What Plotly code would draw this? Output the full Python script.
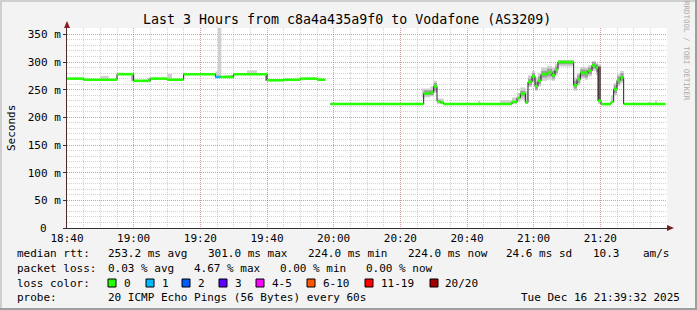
import plotly.graph_objects as go
import pandas as pd

BASE = pd.Timestamp("2025-12-16 18:40:00")

# ---------------- data ----------------
# median rtt segments: start minute (after 18:40); last entry is the end of the last segment
med_t = [0, 5, 15, 20, 25, 30, 35, 44.5, 46, 50, 60, 65, 70, 75, 77.5,
         79, 107, 109, 110, 111, 112, 113,
         133.5, 135, 136, 137.5, 138.3, 139.5, 140.4, 141.3, 142.2, 144, 145.5, 146.4, 147.3,
         152, 153, 154, 155.4, 156.3, 157.5, 158.7, 159.3, 160.2, 163.2, 164, 165, 166, 167, 179.5]
med_v = [270, 268, 278, 266, 270, 268, 278, 273, 273, 278, 267, 268, 270, 268, None,
         224, 243, 245, 256, 229, 227, 224,
         228, 235, 243, 227, 264, 274, 256, 266, 278, 281, 276, 286, 300,
         258, 269, 281, 279, 284, 294, 290, 230, 224, 228, 251, 267, 272, 224]
med_loss = [0, 0, 0, 0, 0, 0, 0, 1, 0, 0, 0, 0, 0, 0, 0,
            0, 0, 0, 0, 0, 0, 0,
            0, 0, 0, 0, 0, 0, 0, 0, 0, 0, 0, 0, 0,
            0, 0, 0, 0, 0, 0, 0, 0, 0, 0, 0, 0, 0, 0]

# smoke (outer, light)
sl_t0 = [10, 24.2, 30, 44.5, 45.3, 47.5, 54,
         106.5, 109, 110, 111, 123.5, 130, 133.5, 135, 136, 137.5, 138.3, 139.5, 140.4, 141.3,
         142.2, 144, 145.5, 146.4, 147.3, 152, 153, 154, 155.4, 156.3, 157.5, 158.7, 159.3,
         163.2, 164, 165, 166, 174.5, 176.5]
sl_t1 = [12.5, 25, 31.5, 45.3, 46.3, 50, 57,
         109, 110, 111, 113, 124, 133.5, 135, 136, 137.5, 138.3, 139.5, 140.4, 141.3, 142.2,
         144, 145.5, 146.4, 147.3, 152, 153, 154, 155.4, 156.3, 157.5, 158.7, 159.3, 160.2,
         164, 165, 166, 167, 175, 177]
sl_lo = [268, 266, 268, 272, 272, 272, 278,
         236, 238, 244, 224, 224, 224, 224, 228, 232, 224, 255, 262, 248, 256,
         266, 268, 266, 276, 292, 248, 258, 270, 268, 274, 284, 276, 224,
         226, 240, 256, 262, 224, 224]
sl_hi = [275, 272, 279, 283, 370, 276, 285,
         252, 256, 266, 234, 230, 231, 236, 244, 254, 248, 276, 284, 272, 280,
         290, 293, 290, 297, 304, 272, 280, 291, 290, 294, 302, 298, 296,
         240, 262, 278, 284, 228, 230]

# smoke (inner, mid grey)
sm_t0 = [19.3, 24.5, 49, 59.6, 107, 110, 136, 138.3, 139.5, 140.4, 141.3, 142.2, 144, 145.5,
         146.4, 147.3, 152, 153, 154, 155.4, 156.3, 157.5, 158.7, 164, 165, 166]
sm_t1 = [20.1, 25, 50, 60.1, 110, 111, 137.5, 139.5, 140.4, 141.3, 142.2, 144, 145.5, 146.4,
         147.3, 152, 153, 154, 155.4, 156.3, 157.5, 158.7, 159.3, 165, 166, 167]
sm_lo = [266, 266, 272, 266, 240, 248, 238, 258, 266, 250, 260, 272, 274, 270,
         280, 296, 252, 262, 274, 272, 278, 288, 282, 244, 260, 266]
sm_hi = [278, 270, 276, 278, 249, 262, 248, 270, 280, 264, 274, 284, 288, 284,
         292, 302, 266, 276, 287, 286, 290, 300, 296, 258, 274, 280]

# smoke (dark core)
sd_t0 = [159.3]
sd_t1 = [160.2]
sd_lo = [228]
sd_hi = [292]

loss_colors = ["#26ff00", "#00b8ff", "#0059ff", "#5e00ff", "#ff00ff", "#ff5500", "#ff0000", "#a00000"]
loss_labels = ["0", "1", "2", "3", "4-5", "6-10", "11-19", "20/20"]

x_tick_min = [0, 20, 40, 60, 80, 100, 120, 140, 160]
x_tick_labels = ["18:40", "19:00", "19:20", "19:40", "20:00", "20:20", "20:40", "21:00", "21:20"]
y_tick_vals = [0, 50, 100, 150, 200, 250, 300, 350]
y_tick_labels = ["0", "50 m", "100 m", "150 m", "200 m", "250 m", "300 m", "350 m"]

# ---------------- helpers ----------------
W, H = 697, 310
L, R, T, B = 67, 30, 28, 82
PW, PH = W - L - R, H - T - B
MONO = "DejaVu Sans Mono"


def tm(m):
    return BASE + pd.Timedelta(minutes=m)


def px(x):
    return (x - L) / PW


def py(y):
    return (H - B - y) / PH


def smoke(t0, t1, lo, hi, color):
    return go.Bar(
        x=[tm((a + b) / 2) for a, b in zip(t0, t1)],
        y=[h - l for l, h in zip(lo, hi)],
        base=lo,
        width=[(b - a) * 60000 for a, b in zip(t0, t1)],
        marker=dict(color=color, line=dict(width=0)),
        hoverinfo="skip", showlegend=False,
    )


fig = go.Figure()
fig.add_trace(smoke(sl_t0, sl_t1, sl_lo, sl_hi, "#d0d0d0"))
fig.add_trace(smoke(sm_t0, sm_t1, sm_lo, sm_hi, "#a0a0a0"))
fig.add_trace(smoke(sd_t0, sd_t1, sd_lo, sd_hi, "#6e5a5a"))

# thin dark median line
lx, ly = [], []
for i, v in enumerate(med_v):
    if v is None:
        lx.append(None)
        ly.append(None)
        continue
    lx += [tm(med_t[i]), tm(med_t[i + 1])]
    ly += [v, v]
fig.add_trace(go.Scatter(x=lx, y=ly, mode="lines", line=dict(color="#202020", width=1),
                         hoverinfo="skip", showlegend=False))

# thick loss-coloured median stripes
for li, col in enumerate(loss_colors):
    sx, sy = [], []
    for i, v in enumerate(med_v):
        if v is None or med_loss[i] != li:
            continue
        sx += [tm(med_t[i]), tm(med_t[i + 1]), None]
        sy += [v, v, None]
    if sx:
        fig.add_trace(go.Scatter(x=sx, y=sy, mode="lines", line=dict(color=col, width=2.6),
                                 hoverinfo="skip", showlegend=False))

major_grid = "rgba(222,80,80,0.4)"
minor_grid = "rgba(143,143,143,0.4)"

# the "0" y label is drawn separately (it sits under the digit column, not the unit)
y_tick_text_axis = ["" if v == 0 else t for v, t in zip(y_tick_vals, y_tick_labels)]

fig.update_layout(
    width=W, height=H,
    margin=dict(l=L, r=R, t=T, b=B, pad=0),
    paper_bgcolor="#f3f3f3", plot_bgcolor="#ffffff",
    barmode="overlay", showlegend=False,
    font=dict(family=MONO, size=11, color="#000000"),
    xaxis=dict(
        type="date", range=[tm(0), tm(180)], automargin=False,
        tickmode="array", tickvals=[tm(m) for m in x_tick_min], ticktext=x_tick_labels,
        showgrid=True, gridcolor=major_grid, griddash="1px,1px", gridwidth=1,
        minor=dict(dtick=5 * 60000, tick0=tm(0), showgrid=True, gridcolor=minor_grid,
                   griddash="1px,1px", gridwidth=1),
        showline=True, linecolor="#303030", linewidth=1, zeroline=False,
        ticks="", tickfont=dict(family=MONO, size=11),
    ),
    yaxis=dict(
        range=[0, 361.5], automargin=False,
        tickmode="array", tickvals=y_tick_vals, ticktext=y_tick_text_axis,
        showgrid=True, gridcolor=major_grid, griddash="1px,1px", gridwidth=1,
        minor=dict(dtick=10, tick0=0, showgrid=True, gridcolor=minor_grid,
                   griddash="1px,1px", gridwidth=1),
        showline=True, linecolor="#4a2a2a", linewidth=1, zeroline=False,
        ticks="outside", ticklen=3, tickcolor="#4a2a2a",
        tickfont=dict(family=MONO, size=11),
    ),
)

shapes = []
# frame shading
shapes.append(dict(type="rect", xref="paper", yref="paper", x0=px(0), x1=px(W), y0=py(0), y1=py(2),
                   fillcolor="#cfcfcf", line=dict(width=0), layer="above"))
shapes.append(dict(type="rect", xref="paper", yref="paper", x0=px(0), x1=px(2), y0=py(0), y1=py(H),
                   fillcolor="#cfcfcf", line=dict(width=0), layer="above"))
shapes.append(dict(type="rect", xref="paper", yref="paper", x0=px(0), x1=px(W), y0=py(H - 2), y1=py(H),
                   fillcolor="#9e9e9e", line=dict(width=0), layer="above"))
shapes.append(dict(type="rect", xref="paper", yref="paper", x0=px(W - 2), x1=px(W), y0=py(0), y1=py(H),
                   fillcolor="#9e9e9e", line=dict(width=0), layer="above"))
# axis arrows
ax_y = H - B
shapes.append(dict(type="path", xref="paper", yref="paper",
                   path=f"M {px(L)},{py(T - 7)} L {px(L - 3)},{py(T)} L {px(L + 3)},{py(T)} Z",
                   fillcolor="#8b1a1a", line=dict(width=0), layer="above"))
shapes.append(dict(type="path", xref="paper", yref="paper",
                   path=f"M {px(W - R + 7)},{py(ax_y)} L {px(W - R)},{py(ax_y - 3)} L {px(W - R)},{py(ax_y + 3)} Z",
                   fillcolor="#8b1a1a", line=dict(width=0), layer="above"))
shapes.append(dict(type="line", xref="paper", yref="paper", x0=px(W - R), x1=px(W - R + 4),
                   y0=py(ax_y), y1=py(ax_y), line=dict(color="#303030", width=1), layer="above"))

# legend colour boxes
box_x = [108, 146, 182, 219, 256, 307, 365, 430]
lbl_x = [123, 161, 197, 234, 271, 322, 380, 444]
row_y = [253.5, 268.5, 283, 297.5]
for bx, col in zip(box_x, loss_colors):
    shapes.append(dict(type="rect", xref="paper", yref="paper", x0=px(bx), x1=px(bx + 8),
                       y0=py(row_y[2] - 4), y1=py(row_y[2] + 4),
                       fillcolor=col, line=dict(color="#000000", width=1), layer="above"))
fig.update_layout(shapes=shapes)

anns = []


def ann(x, y, text, anchor="left", size=11, color="#000000", angle=0):
    anns.append(dict(x=px(x), y=py(y), xref="paper", yref="paper", text=text, showarrow=False,
                     xanchor=anchor, yanchor="middle", textangle=angle,
                     font=dict(family=MONO, size=size, color=color), borderpad=0))


# zero label of the y axis, aligned with the digits of the other labels
anns.append(dict(x=0, y=0, xref="paper", yref="y", text=y_tick_labels[0], showarrow=False,
                 xanchor="right", yanchor="middle", xshift=-19,
                 font=dict(family=MONO, size=11, color="#000000"), borderpad=0))

ann(347, 19, "Last 3 Hours from c8a4a435a9f0 to Vodafone (AS3209)", anchor="center", size=13.3)
ann(11, 128, "Seconds", anchor="center", angle=-90)
ann(687, 51, "RRDTOOL / TOBI OETIKER", anchor="center", size=7.5, color="#ababab", angle=90)

ann(16, row_y[0], "median rtt:")
for x, t in zip([107, 207, 307, 407, 505, 592, 642],
                ["253.2 ms avg", "301.0 ms max", "224.0 ms min", "224.0 ms now", "24.6 ms sd", "10.3", "am/s"]):
    ann(x, row_y[0], t)
ann(16, row_y[1], "packet loss:")
for x, t in zip([107, 193, 279, 365], ["0.03 % avg", "4.67 % max", "0.00 % min", "0.00 % now"]):
    ann(x, row_y[1], t)
ann(16, row_y[2], "loss color:")
for x, t in zip(lbl_x, loss_labels):
    ann(x, row_y[2], t)
ann(16, row_y[3], "probe:")
ann(107, row_y[3], "20 ICMP Echo Pings (56 Bytes) every 60s")
ann(681, row_y[3], "Tue Dec 16 21:39:32 2025", anchor="right")
fig.update_layout(annotations=anns)

fig.write_html("out.html")
